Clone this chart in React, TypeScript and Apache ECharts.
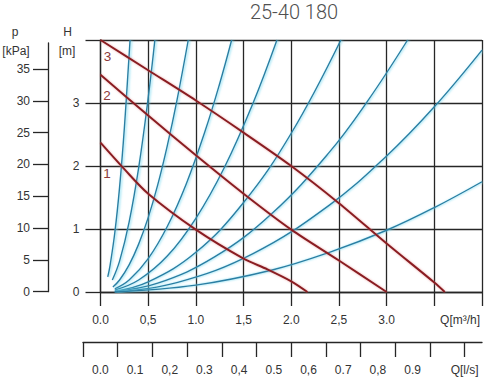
import React, { useEffect, useRef } from "react";
import * as echarts from "echarts";

// Pump curves (Q in m³/h, H in m)
const pump3: [number, number][] = [[0, 4.0], [0.5, 3.52], [1.0, 3.04], [1.5, 2.53], [2.0, 2.0], [2.5, 1.41], [3.0, 0.77], [3.5, 0.15], [3.61, 0]];
const pump2: [number, number][] = [[0, 3.45], [0.5, 2.8], [1.0, 2.17], [1.5, 1.56], [2.0, 0.99], [2.5, 0.5], [3.0, 0]];
const pump1: [number, number][] = [[0, 2.37], [0.25, 1.95], [0.5, 1.56], [1.0, 0.99], [1.5, 0.53], [1.75, 0.36], [2.0, 0.17], [2.17, 0]];

// System curves
const sysA: [number, number][] = [[0.076, 0.24], [0.1, 0.42], [0.15, 0.94], [0.2, 1.66], [0.25, 2.6], [0.31, 4.0]];
const sysB: [number, number][] = [[0.124, 0.19], [0.2, 0.49], [0.3, 1.11], [0.4, 1.97], [0.5, 3.08], [0.57, 4.0]];
const sysC: [number, number][] = [[0.13, 0.08], [0.2, 0.19], [0.3, 0.43], [0.4, 0.76], [0.5, 1.18], [0.6, 1.7], [0.7, 2.32], [0.8, 3.03], [0.92, 4.0]];
const sysD: [number, number][] = [[0.15, 0.05], [0.3, 0.19], [0.5, 0.53], [0.7, 1.04], [0.9, 1.72], [1.1, 2.57], [1.25, 3.31], [1.375, 4.0]];
const sysE: [number, number][] = [[0.15, 0.03], [0.4, 0.19], [0.7, 0.57], [1.0, 1.17], [1.3, 1.98], [1.6, 3.0], [1.85, 4.0]];
const sysF: [number, number][] = [[0.15, 0.01], [0.5, 0.16], [1.0, 0.63], [1.5, 1.42], [2.0, 2.52], [2.52, 4.0]];
const sysG: [number, number][] = [[0.15, 0.01], [0.6, 0.14], [1.2, 0.56], [1.8, 1.25], [2.4, 2.22], [2.8, 3.03], [3.22, 4.0]];
const sysH: [number, number][] = [[0.15, 0.0], [0.8, 0.15], [1.6, 0.61], [2.4, 1.38], [3.0, 2.16], [3.5, 2.94], [4.0, 3.84]];
const sysI: [number, number][] = [[0.15, 0.0], [1.0, 0.11], [1.8, 0.35], [2.4, 0.63], [3.0, 0.98], [3.5, 1.34], [4.0, 1.75]];

const systemCurves = [sysA, sysB, sysC, sysD, sysE, sysF, sysG, sysH, sysI];
const pumpCurves = [pump1, pump2, pump3];
const pumpNames = ["1", "2", "3"];

// Tick labels
const qValues = [0, 0.5, 1.0, 1.5, 2.0, 2.5, 3.0];
const qLabels = ["0.0", "0,5", "1.0", "1,5", "2.0", "2,5", "3.0"];
const hValues = [0, 1, 2, 3];
const hLabels = ["0", "1", "2", "3"];
const pValues = [0, 5, 10, 15, 20, 25, 30, 35];
const lsValues = [0, 0.1, 0.2, 0.3, 0.4, 0.5, 0.6, 0.7, 0.8, 0.9];
const lsLabels = ["0.0", "0.1", "0,2", "0.3", "0,4", "0.5", "0,6", "0.7", "0,8", "0.9"];
const lsTickValues = [-0.05, 0.05, 0.15, 0.25, 0.35, 0.45, 0.55, 0.65, 0.75, 0.85, 0.95, 1.05];

const title = "25-40 180";
const qUnit = "Q[m³/h]";
const lsUnit = "Q[l/s]";

const lookup = (vals: number[], labels: string[], v: number) => {
  const i = vals.findIndex((x) => Math.abs(x - v) < 1e-6);
  return i >= 0 ? labels[i] : "";
};

const GRID = "#262626";
const TXT = "#333";
const FONT = "'Liberation Sans', Arial, sans-serif";

export default function App() {
  const ref = useRef<HTMLDivElement>(null);
  useEffect(() => {
    if (!ref.current) return;
    const chart = echarts.init(ref.current, null, { renderer: "svg" });
    const lineStyleAxis = { color: GRID, width: 1.3 };
    const option: any = {
      animation: false,
      backgroundColor: "#fff",
      textStyle: { fontFamily: FONT },
      grid: [
        { left: 100.5, top: 40, width: 381.5, height: 252 },
        { left: 48, top: 43, width: 1, height: 248.7 },
        { left: 83, top: 300, width: 399, height: 42 },
      ],
      xAxis: [
        {
          type: "value", gridIndex: 0, min: 0, max: 4, interval: 0.5, position: "bottom",
          axisLine: { show: true, onZero: false, lineStyle: lineStyleAxis },
          axisTick: { show: true, inside: false, length: 14, lineStyle: lineStyleAxis },
          splitLine: { show: true, lineStyle: lineStyleAxis },
          axisLabel: {
            customValues: [...qValues, 3.77],
            formatter: (v: number) => (Math.abs(v - 3.77) < 1e-6 ? qUnit : lookup(qValues, qLabels, v)),
            margin: 22, fontSize: 12, color: TXT, fontFamily: FONT,
          },
        },
        { type: "value", gridIndex: 1, show: false, min: 0, max: 1 },
        {
          type: "value", gridIndex: 2, min: -0.05, max: 1.1, position: "bottom",
          axisLine: { show: true, onZero: false, lineStyle: lineStyleAxis },
          axisTick: { show: true, inside: false, length: 15, customValues: lsTickValues, lineStyle: lineStyleAxis },
          splitLine: { show: false },
          axisLabel: {
            customValues: [...lsValues, 1.05],
            formatter: (v: number) => (Math.abs(v - 1.05) < 1e-6 ? lsUnit : lookup(lsValues, lsLabels, v)),
            margin: 22, fontSize: 12, color: TXT, fontFamily: FONT,
          },
        },
      ],
      yAxis: [
        {
          type: "value", gridIndex: 0, min: 0, max: 4, interval: 1,
          axisLine: { show: true, onZero: false, lineStyle: lineStyleAxis },
          axisTick: { show: true, inside: false, length: 15, lineStyle: lineStyleAxis },
          splitLine: { show: true, lineStyle: lineStyleAxis },
          axisLabel: {
            customValues: hValues,
            formatter: (v: number) => lookup(hValues, hLabels, v),
            margin: 21, fontSize: 12, color: TXT, fontFamily: FONT,
          },
        },
        {
          type: "value", gridIndex: 1, min: 0, max: 39.1, position: "left",
          axisLine: { show: true, onZero: false, lineStyle: lineStyleAxis },
          axisTick: { show: true, inside: false, length: 15, customValues: pValues, lineStyle: lineStyleAxis },
          splitLine: { show: false },
          axisLabel: { customValues: pValues, margin: 18, fontSize: 12, color: TXT, fontFamily: FONT },
        },
        { type: "value", gridIndex: 2, show: false, min: 0, max: 1 },
      ],
      graphic: [
        { type: "text", x: 294, y: 12, style: { text: title, fill: "#505050", font: "300 20px Roboto", textAlign: "center", textVerticalAlign: "middle" } },
        { type: "text", x: 67.5, y: 32, style: { text: "H", fill: TXT, font: `12px ${FONT}`, textAlign: "center", textVerticalAlign: "middle" } },
        { type: "text", x: 67, y: 50.5, style: { text: "[m]", fill: TXT, font: `12px ${FONT}`, textAlign: "center", textVerticalAlign: "middle" } },
        { type: "text", x: 15, y: 32, style: { text: "p", fill: TXT, font: `12px ${FONT}`, textAlign: "center", textVerticalAlign: "middle" } },
        { type: "text", x: 16, y: 50.5, style: { text: "[kPa]", fill: TXT, font: `12px ${FONT}`, textAlign: "center", textVerticalAlign: "middle" } },
        { type: "text", x: 107.5, y: 56.5, style: { text: pumpNames[2], fill: "#8e3a3a", font: `13.5px ${FONT}`, textAlign: "center", textVerticalAlign: "middle" } },
        { type: "text", x: 107, y: 95, style: { text: pumpNames[1], fill: "#8e3a3a", font: `13.5px ${FONT}`, textAlign: "center", textVerticalAlign: "middle" } },
        { type: "text", x: 107, y: 173, style: { text: pumpNames[0], fill: "#8e3a3a", font: `13.5px ${FONT}`, textAlign: "center", textVerticalAlign: "middle" } },
      ],
      series: [
        ...systemCurves.map((d, i) => ({
          type: "line", name: "system" + i, xAxisIndex: 0, yAxisIndex: 0, data: d, smooth: 0.4,
          showSymbol: false, symbol: "none", z: 3, clip: true,
          lineStyle: { color: "#2a7ea3", width: 1.4, shadowColor: "rgba(110,215,240,0.9)", shadowBlur: 2, shadowOffsetX: 1.2 },
        })),
        ...pumpCurves.map((d, i) => ({
          type: "line", name: "pump" + pumpNames[i], xAxisIndex: 0, yAxisIndex: 0, data: d, smooth: 0.3,
          showSymbol: false, symbol: "none", z: 4, clip: true,
          lineStyle: { color: "#8a1c20", width: 2, shadowColor: "rgba(220,110,110,0.6)", shadowBlur: 2 },
        })),
      ],
    };
    chart.setOption(option);
    return () => chart.dispose();
  }, []);
  return <div ref={ref} style={{ position: "absolute", left: 0, top: 0, width: 487, height: 379 }} />;
}
